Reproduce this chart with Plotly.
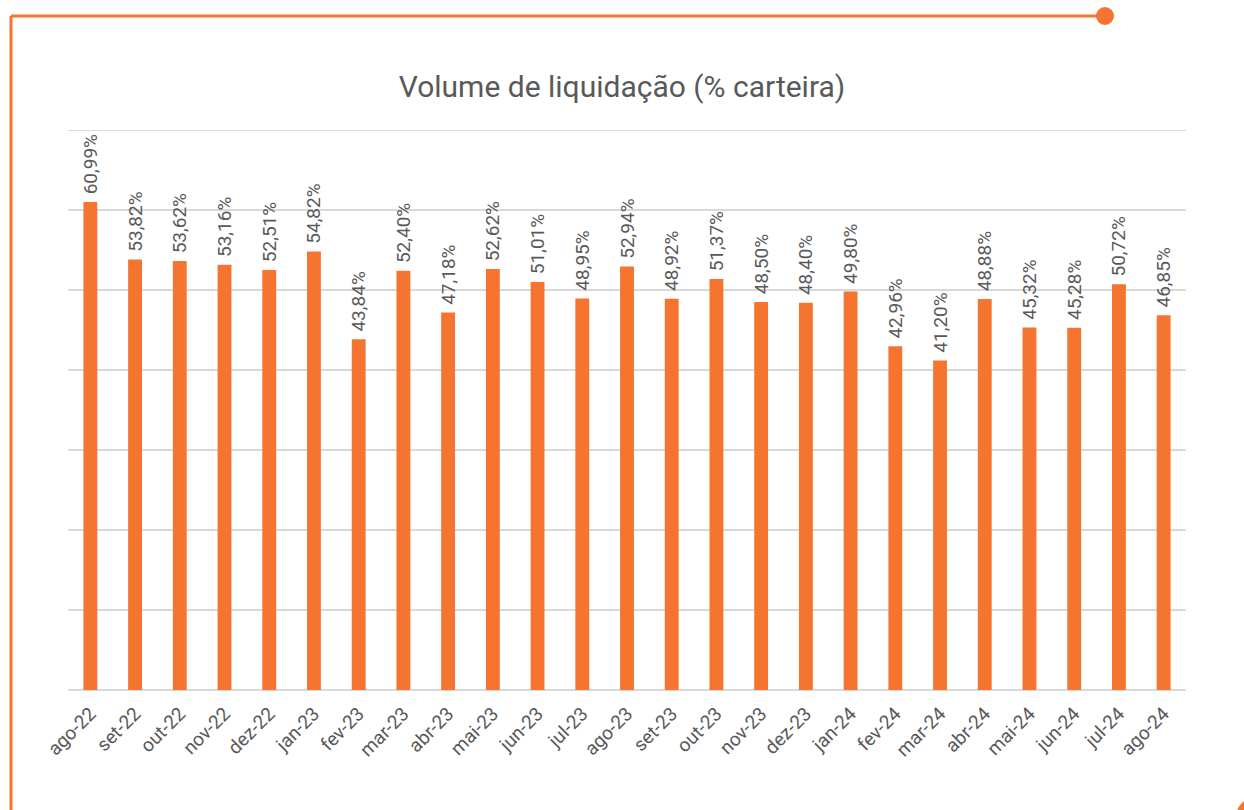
import plotly.graph_objects as go

months = ["ago-22", "set-22", "out-22", "nov-22", "dez-22", "jan-23", "fev-23", "mar-23",
          "abr-23", "mai-23", "jun-23", "jul-23", "ago-23", "set-23", "out-23", "nov-23",
          "dez-23", "jan-24", "fev-24", "mar-24", "abr-24", "mai-24", "jun-24", "jul-24", "ago-24"]
values = [60.99, 53.82, 53.62, 53.16, 52.51, 54.82, 43.84, 52.40, 47.18, 52.62, 51.01, 48.95,
          52.94, 48.92, 51.37, 48.50, 48.40, 49.80, 42.96, 41.20, 48.88, 45.32, 45.28, 50.72, 46.85]
labels = ["\u00a0" + f"{v:.2f}%".replace(".", ",") for v in values]
y_max = 70

ORANGE = "#F47430"
GRAY = "#595959"

W, H = 1244, 810
L, R, T, B = 68, 58, 130, 120
pw, ph = W - L - R, H - T - B

def px(x):
    return (x - L) / pw

def py(y):
    return (H - B - y) / ph

fig = go.Figure(go.Bar(
    x=months, y=values, text=labels, textposition="outside", textangle=-90,
    constraintext="none",
    textfont=dict(family="Roboto", size=19, color=GRAY),
    marker=dict(color=ORANGE, line=dict(width=0)), cliponaxis=False,
))

fig.update_layout(
    width=W, height=H, margin=dict(l=L, r=R, t=T, b=B),
    paper_bgcolor="white", plot_bgcolor="white", bargap=0.69,
    showlegend=False,
    title=dict(text="Volume de liquidação (% carteira)", x=0.5, xanchor="center",
               y=1 - 86 / H, yanchor="middle",
               font=dict(family="Roboto", size=30, color=GRAY)),
    font=dict(family="Roboto", color=GRAY),
    xaxis=dict(tickangle=-45, tickfont=dict(size=19, color=GRAY), showgrid=False,
               showline=False, ticks="", ticklabelstandoff=8),
    yaxis=dict(range=[0, y_max], dtick=10, showticklabels=False, showgrid=True,
               gridcolor="#D9D9D9", gridwidth=2, zeroline=True, zerolinecolor="#D9D9D9",
               zerolinewidth=2, ticks=""),
    shapes=[
        dict(type="line", xref="paper", yref="y", x0=0, x1=1, y0=y_max, y1=y_max,
             line=dict(color="#D9D9D9", width=2), layer="below"),
        dict(type="line", xref="paper", yref="paper", x0=px(11), x1=px(1105), y0=py(16), y1=py(16),
             line=dict(color=ORANGE, width=3), layer="below"),
        dict(type="line", xref="paper", yref="paper", x0=px(11), x1=px(11), y0=py(16), y1=py(812),
             line=dict(color=ORANGE, width=3), layer="below"),
        dict(type="circle", xref="paper", yref="paper", xsizemode="pixel", ysizemode="pixel",
             xanchor=px(1105), yanchor=py(16), x0=-9, x1=9, y0=-9, y1=9,
             fillcolor=ORANGE, line=dict(width=0)),
        dict(type="circle", xref="paper", yref="paper", xsizemode="pixel", ysizemode="pixel",
             xanchor=px(1252), yanchor=py(814), x0=-15, x1=15, y0=-15, y1=15,
             fillcolor=ORANGE, line=dict(width=0)),
    ],
)

fig.write_html("out.html", config={"displayModeBar": False},
               post_script="document.body.style.margin='0';")
